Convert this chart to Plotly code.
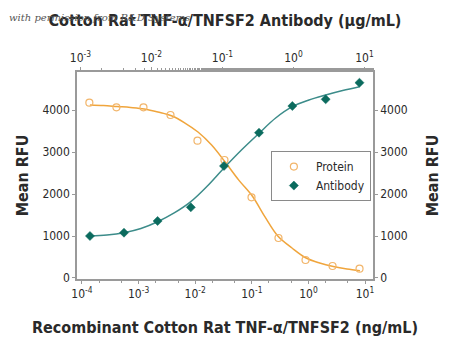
import plotly.graph_objects as go

# ---------------- data ----------------
protein_conc = [0.000135, 0.000406, 0.00122, 0.00366, 0.01097, 0.0329, 0.0988, 0.296, 0.889, 2.667, 8.0]
protein_rfu = [4174, 4064, 4064, 3881, 3269, 2810, 1921, 952, 429, 286, 221]

antibody_conc = [0.00136, 0.0041, 0.0122, 0.0358, 0.105, 0.327, 0.964, 2.84, 8.5]
antibody_rfu = [1000, 1079, 1357, 1683, 2667, 3460, 4095, 4255, 4650]

# fitted curves
protein_fit_conc = [0.000138, 0.00024, 0.00042, 0.00072, 0.00126, 0.00219, 0.0039, 0.0066,
                    0.0112, 0.0195, 0.0339, 0.0589, 0.102, 0.170, 0.288, 0.513, 0.912,
                    1.58, 2.75, 4.79, 8.13]
protein_fit_rfu = [4119, 4107, 4083, 4060, 4024, 3952, 3857, 3690, 3476, 3167, 2760,
                   2330, 1952, 1460, 1000, 714, 476, 357, 274, 214, 174]

antibody_fit_conc = [0.00136, 0.00236, 0.0041, 0.0071, 0.0122, 0.0209, 0.0358, 0.0613,
                     0.105, 0.185, 0.327, 0.561, 0.964, 1.65, 2.84, 4.93, 8.5]
antibody_fit_rfu = [1000, 1024, 1079, 1179, 1340, 1548, 1817, 2190, 2619, 3048, 3445,
                    3810, 4079, 4238, 4357, 4464, 4555]

bottom_tickvals = [1e-4, 1e-3, 1e-2, 1e-1, 1, 10]
bottom_ticktext = ["10<sup>-4</sup>", "10<sup>-3</sup>", "10<sup>-2</sup>",
                   "10<sup>-1</sup>", "10<sup>0</sup>", "10<sup>1</sup>"]
top_tickvals = [1e-3, 1e-2, 1e-1, 1, 10]
top_ticktext = ["10<sup>-3</sup>", "10<sup>-2</sup>", "10<sup>-1</sup>",
                "10<sup>0</sup>", "10<sup>1</sup>"]
y_tickvals = [0, 1000, 2000, 3000, 4000]

# ---------------- style ----------------
FONT = "Liberation Sans Narrow, DejaVu Sans Condensed, Liberation Sans, sans-serif"
ORANGE_LINE = "#F0A53C"
ORANGE_MARK = "#F2B56A"
TEAL_LINE = "#3C8C8A"
TEAL_MARK = "#0B6B5E"
AXIS = "#9a9a9a"
TXT = "#2a2a2a"

fig = go.Figure()

fig.add_trace(go.Scatter(x=protein_fit_conc, y=protein_fit_rfu, mode="lines",
                         line=dict(color=ORANGE_LINE, width=1.5, shape="spline", smoothing=1.0),
                         showlegend=False, hoverinfo="skip", xaxis="x", yaxis="y"))
fig.add_trace(go.Scatter(x=protein_conc, y=protein_rfu, mode="markers", name="Protein",
                         marker=dict(symbol="circle-open", size=7,
                                     line=dict(color=ORANGE_MARK, width=1.2), color=ORANGE_MARK),
                         xaxis="x", yaxis="y"))
fig.add_trace(go.Scatter(x=antibody_fit_conc, y=antibody_fit_rfu, mode="lines",
                         line=dict(color=TEAL_LINE, width=1.5, shape="spline", smoothing=1.0),
                         showlegend=False, hoverinfo="skip", xaxis="x2", yaxis="y2"))
fig.add_trace(go.Scatter(x=antibody_conc, y=antibody_rfu, mode="markers", name="Antibody",
                         marker=dict(symbol="diamond", size=7, color=TEAL_MARK,
                                     line=dict(color=TEAL_MARK, width=0.5)),
                         xaxis="x2", yaxis="y2"))

yrange = [-24, 4905]
common_axis = dict(showline=True, linecolor=AXIS, linewidth=1.5, showgrid=False,
                   zeroline=False, ticks="outside", tickcolor=AXIS, ticklen=3,
                   tickfont=dict(family=FONT, size=12, color=TXT))
title_font = dict(family=FONT, size=16, color=TXT, weight="bold")

fig.update_layout(
    width=450, height=351,
    margin=dict(l=77, r=77, t=72, b=72),
    paper_bgcolor="white", plot_bgcolor="white",
    font=dict(family=FONT, color=TXT),
    xaxis=dict(type="log", range=[-4.088, 1.141], side="bottom",
               tickvals=bottom_tickvals, ticktext=bottom_ticktext,
               minor=dict(ticks="outside", ticklen=2, tickcolor=AXIS, showgrid=False),
               title=dict(text="Recombinant Cotton Rat TNF-α/TNFSF2 (ng/mL)",
                          font=title_font, standoff=22),
               **common_axis),
    xaxis2=dict(type="log", range=[-3.049, 1.12], side="top", overlaying="x",
                tickvals=top_tickvals, ticktext=top_ticktext,
                minor=dict(ticks="outside", ticklen=2, tickcolor=AXIS, showgrid=False),
                title=dict(text="Cotton Rat TNF-α/TNFSF2 Antibody (µg/mL)",
                           font=title_font, standoff=19),
                **common_axis),
    yaxis=dict(range=yrange, tickvals=y_tickvals, side="left",
               title=dict(text="Mean RFU", font=title_font, standoff=10),
               **common_axis),
    yaxis2=dict(range=yrange, tickvals=y_tickvals, side="right", overlaying="y",
                title=dict(text="Mean RFU", font=title_font, standoff=20),
                **common_axis),
    legend=dict(x=0.655, y=0.618, xanchor="left", yanchor="top",
                bordercolor="#8a8a8a", borderwidth=1, bgcolor="white",
                font=dict(family=FONT, size=12, color=TXT), itemwidth=34,
                tracegroupgap=0),
)

# watermark-like note
fig.add_annotation(text="<i>with permission from R&amp;D Systems</i>",
                   xref="paper", yref="paper", x=-0.235, y=1.265, xanchor="left", yanchor="middle",
                   showarrow=False, font=dict(family="DejaVu Serif", size=10, color="#555555"))

fig.write_html("out.html")
